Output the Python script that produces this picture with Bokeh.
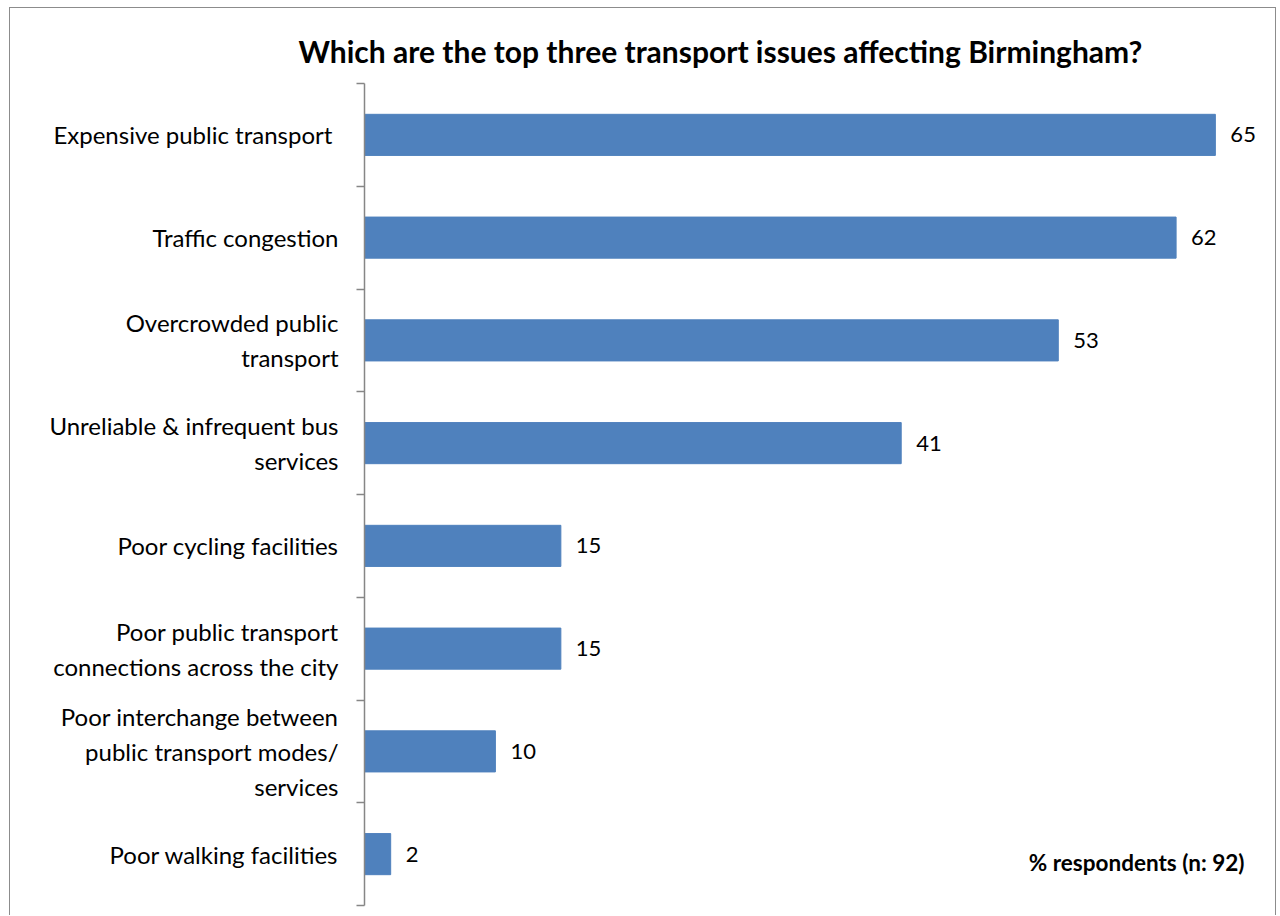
from bokeh.plotting import figure
from bokeh.models import Range1d, FixedTicker, ColumnDataSource, Label
from bokeh.embed import file_html
from bokeh.resources import INLINE
from bokeh.core.properties import value

categories = [
    "Expensive  public transport",
    "Traffic congestion",
    "Overcrowded public\ntransport",
    "Unreliable & infrequent bus\nservices",
    "Poor cycling facilities",
    "Poor public transport\nconnections across the city",
    "Poor interchange between\npublic transport modes/\nservices",
    "Poor walking facilities",
]
values = [65, 62, 53, 41, 15, 15, 10, 2]
title_text = "Which are the top three transport issues affecting Birmingham?"
note_text = "% respondents (n: 92)"

FONT = "Lato"
BAR = "#4F81BD"
AXIS = "#868686"

n = len(categories)
ypos = [n - i - 0.5 for i in range(n)]
src = ColumnDataSource(dict(y=ypos, v=values, lab=[str(v) for v in values]))

p = figure(width=1267, height=908, output_backend="svg", toolbar_location=None,
           x_range=Range1d(0, 68.6), y_range=Range1d(0, n),
           x_axis_location=None, min_border_left=354, min_border_top=75,
           min_border_bottom=11, min_border_right=15,
           styles={"border-left": "1px solid #8C8C8C", "border-top": "1px solid #8C8C8C",
                   "border-right": "1px solid #8C8C8C", "margin-left": "9px",
                   "margin-top": "7px"})
p.outline_line_color = None
p.grid.visible = False
p.background_fill_color = "white"
p.border_fill_color = "white"

p.title.text = title_text
p.title.align = "left"
p.title.offset = -66
p.title.standoff = 30
p.title.text_font = FONT
p.title.text_font_size = "30px"
p.title.text_font_style = "bold"
p.title.text_color = "black"

p.hbar(y="y", left=0, right="v", height=0.4, source=src, fill_color=BAR, line_color=BAR)
p.text(x="v", y="y", text="lab", source=src, x_offset=15, text_baseline="middle",
       text_align="left", text_font=value(FONT), text_font_size="22px", text_color="black")

ax = p.yaxis[0]
ax.ticker = FixedTicker(ticks=ypos, minor_ticks=list(range(n + 1)))
ax.major_tick_out = 0
ax.major_tick_in = 0
ax.minor_tick_out = 8
ax.minor_tick_in = 0
ax.axis_line_color = AXIS
ax.axis_line_width = 1.5
ax.minor_tick_line_color = AXIS
ax.minor_tick_line_width = 1.5
ax.major_label_overrides = {y: c for y, c in zip(ypos, categories)}
ax.major_label_text_font = FONT
ax.major_label_text_font_size = "24px"
ax.major_label_text_color = "black"
ax.major_label_standoff = 18

p.add_layout(Label(x=1233, y=853, x_units="canvas", y_units="canvas", text=note_text,
                   text_align="right", text_baseline="middle", text_font=FONT,
                   text_font_size="22.5px", text_font_style="bold", text_color="black"))

open("out.html", "w").write(file_html(p, INLINE))
